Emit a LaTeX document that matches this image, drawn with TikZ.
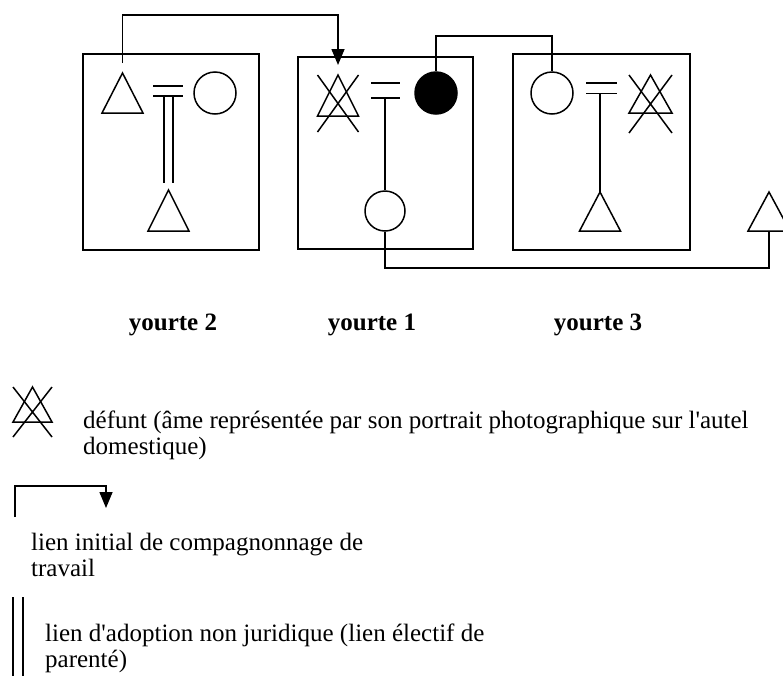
\documentclass[tikz,border=0pt]{standalone}
\usepackage{fontspec}
\setmainfont{Liberation Serif}
\usetikzlibrary{arrows.meta}
\tikzset{
  ln/.style={line width=1.5pt},
  tri/.style={minimum width=#1, inner sep=0pt, outer sep=0pt, draw=none,
    append after command={\pgfextra{\draw[ln,line join=miter] (\tikzlastnode.north) -- (\tikzlastnode.south west) -- (\tikzlastnode.south east) -- cycle;}}},
  tri/.default=41pt,
  dec/.style={append after command={\pgfextra{\draw[ln] (\tikzlastnode.north west) -- ([yshift=-#1]\tikzlastnode.south east) (\tikzlastnode.north east) -- ([yshift=-#1]\tikzlastnode.south west);}}},
  dec/.default=16pt,
  circ/.style={circle, draw, ln, inner sep=0pt, minimum size=#1},
  circ/.default=42pt,
  yurt/.style={draw, ln, inner sep=0pt},
  lab/.style={font=\fontsize{25}{28}\selectfont\bfseries, inner sep=0pt},
  leg/.style={font=\fontsize{25}{26}\selectfont, align=left, anchor=west, inner sep=0pt},
  arr/.style={ln, -{Triangle[width=13pt,length=16pt]}},
}
\begin{document}
\begin{tikzpicture}[x=1pt,y=-1pt]
\useasboundingbox (0,0) rectangle (783,675);
% yurt boxes
\node[yurt, minimum width=176pt, minimum height=196pt] (box2) at (171,152) {};
\node[yurt, minimum width=175pt, minimum height=192pt] (box1) at (385.5,153) {};
\node[yurt, minimum width=177pt, minimum height=196pt] (box3) at (601.5,152) {};
% yourte 2
\node[tri, minimum height=40pt] (t2a) at (122.5,93) {};
\node[circ] (c2) at (215,93) {};
\node[tri, minimum height=41pt] (t2b) at (168.5,210.5) {};
\draw[ln] (153,86) -- (183,86) (153,96) -- (183,96);
\coordinate (e2) at (169.5,96);
\draw[ln] ([xshift=-4.5pt]t2b.north |- e2) -- ([xshift=-4.5pt,yshift=7pt]t2b.north)
          ([xshift=4.5pt]t2b.north |- e2) -- ([xshift=4.5pt,yshift=7pt]t2b.north);
% yourte 1
\node[tri, minimum height=41pt, dec=16pt] (d1) at (338,95.5) {};
\node[circ, fill=black] (b1) at (436,93) {};
\node[circ=40pt] (c1) at (385,211) {};
\draw[ln] (371,83) -- (400,83) (371,98) -- (400,98);
\coordinate (e1) at (385,98);
\draw[ln] (e1) -- (c1.north);
% yourte 3
\node[circ] (c3) at (552,93) {};
\node[tri=43pt, minimum height=38pt, dec=20pt] (d3) at (650.5,94) {};
\node[tri, minimum height=39pt] (t3) at (600,211.5) {};
\draw[ln] (586,83) -- (617,83) (586,93.5) -- (617,93.5);
\coordinate (e3) at (600,93.5);
\draw[ln] (e3) -- (t3.north);
% outside
\node[tri=42pt, minimum height=39pt] (t4) at (769,211.5) {};
% connectors
\coordinate (ktop) at (0,15);
\coordinate (ktop2) at (0,36);
\coordinate (kbot) at (0,268);
\draw[arr] ([yshift=10pt]t2a.north) |- (ktop -| d1.north) -- ([yshift=10pt]d1.north);
\draw[ln] (b1.north) |- (ktop2 -| c3.north) -- (c3.north);
\draw[ln] (c1.south) |- (kbot -| t4.south) -- (t4.south);
% labels
\node[lab] (l2) at (173,325) {yourte 2};
\node[lab] (l1) at (372,325) {yourte 1};
\node[lab] (l3) at (598,325) {yourte 3};
% legend
\node[tri=39pt, minimum height=35pt, dec=15pt] (ld) at (32.5,404.5) {};
\node[leg] (ltx1) at (83,435) {défunt (âme représentée par son portrait photographique sur l\textquotesingle autel\\domestique)};
\coordinate (la1) at (15,517);
\coordinate (latop) at (106,486);
\coordinate (la2) at (106,508);
\draw[arr] (la1) |- (latop) -- (la2);
\node[leg] (ltx2) at (31,554.5) {lien initial de compagnonnage de\\travail};
\coordinate (lb1) at (13,597);
\coordinate (lb2) at (13,680);
\draw[ln] (lb1) -- (lb2) ([xshift=10pt]lb1) -- ([xshift=10pt]lb2);
\node[leg] (ltx3) at (45,648.5) {lien d\textquotesingle adoption non juridique (lien électif de\\parenté)};
\end{tikzpicture}
\end{document}
